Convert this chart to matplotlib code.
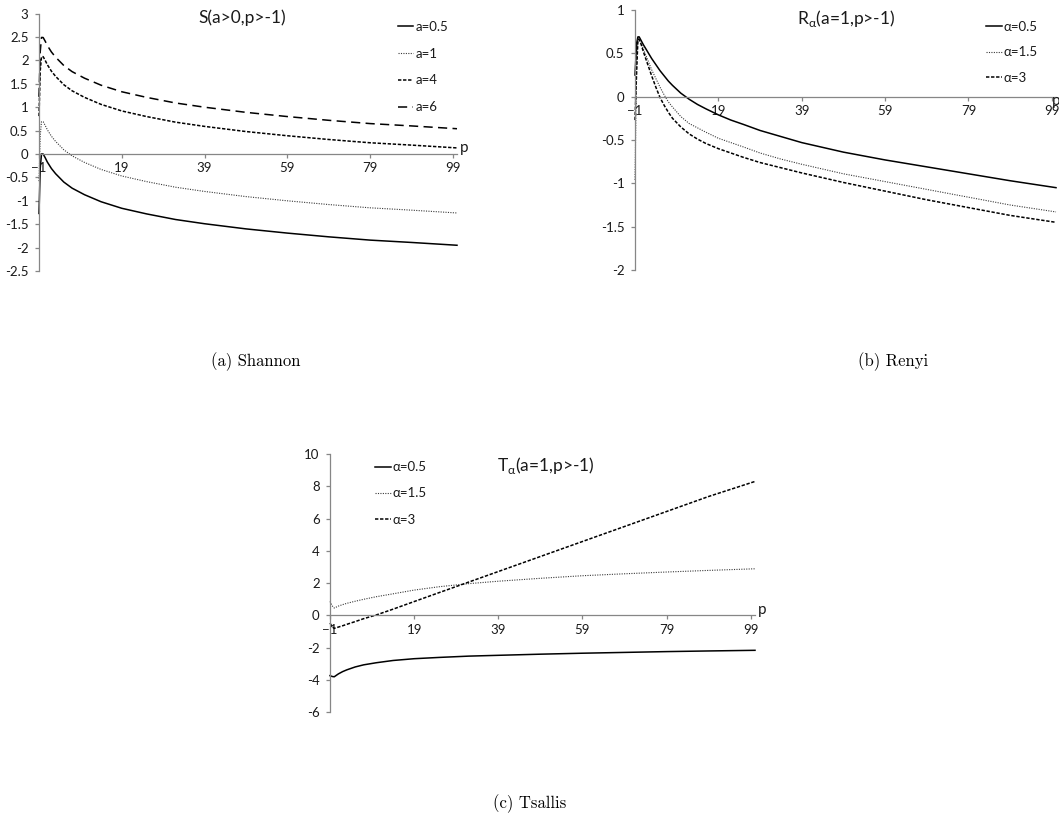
import matplotlib.pyplot as plt
import matplotlib.transforms as mtransforms
from matplotlib.ticker import FuncFormatter

plt.rcParams['font.family'] = ['Lato', 'DejaVu Sans']
plt.rcParams['mathtext.fontset'] = 'dejavusans'

# -------------------------
# (a) Shannon, values
# -------------------------
p_s = [-1, -0.7, -0.4, 0, 0.5, 1, 2, 3, 5, 7, 10, 14, 19, 25, 32, 39, 49, 59, 69, 79, 89, 100]
s_a05 = [-1.27, -0.30, 0.0, 0.0, -0.08, -0.17, -0.31, -0.42, -0.60, -0.73, -0.87, -1.02,
         -1.16, -1.28, -1.40, -1.49, -1.60, -1.69, -1.77, -1.84, -1.89, -1.95]
s_a1 = [-0.58, 0.39, 0.69, 0.69, 0.61, 0.52, 0.38, 0.27, 0.09, -0.04, -0.18, -0.33,
        -0.47, -0.59, -0.71, -0.80, -0.91, -1.00, -1.08, -1.15, -1.20, -1.26]
s_a4 = [0.81, 1.78, 2.08, 2.08, 2.00, 1.91, 1.77, 1.66, 1.48, 1.35, 1.21, 1.06,
        0.92, 0.80, 0.68, 0.59, 0.48, 0.39, 0.31, 0.24, 0.19, 0.13]
s_a6 = [1.22, 2.19, 2.49, 2.49, 2.41, 2.32, 2.18, 2.07, 1.89, 1.76, 1.62, 1.47,
        1.33, 1.21, 1.09, 1.00, 0.89, 0.80, 0.72, 0.65, 0.60, 0.54]
s_labels = ["a=0.5", "a=1", "a=4", "a=6"]

# -------------------------
# (b) Renyi
# -------------------------
p_r = [-1, -0.6, -0.3, 0, 0.5, 1, 1.5, 2, 3, 4, 5, 6, 7, 8, 10, 12, 14, 16, 19, 22,
       25, 29, 34, 39, 49, 59, 69, 79, 89, 100]
r_05 = [0.25, 0.62, 0.69, 0.69, 0.645, 0.60, 0.56, 0.52, 0.44, 0.37, 0.30, 0.24, 0.18,
        0.13, 0.04, -0.03, -0.09, -0.14, -0.21, -0.27, -0.32, -0.39, -0.46, -0.53,
        -0.64, -0.73, -0.81, -0.89, -0.97, -1.05]
r_15 = [-0.96, 0.40, 0.67, 0.67, 0.62, 0.55, 0.49, 0.43, 0.31, 0.21, 0.11, 0.02, -0.06,
        -0.12, -0.23, -0.31, -0.36, -0.41, -0.48, -0.53, -0.58, -0.65, -0.72, -0.78,
        -0.89, -0.98, -1.07, -1.16, -1.25, -1.33]
r_3 = [-0.27, 0.30, 0.66, 0.66, 0.60, 0.52, 0.45, 0.38, 0.24, 0.11, -0.01, -0.10,
       -0.18, -0.25, -0.35, -0.43, -0.49, -0.54, -0.60, -0.65, -0.70, -0.76, -0.82,
       -0.88, -0.99, -1.09, -1.19, -1.28, -1.37, -1.45]
r_labels = ["α=0.5", "α=1.5", "α=3"]

# -------------------------
# (c) Tsallis
# -------------------------
p_t = [-1, -0.5, 0, 1, 2, 3, 5, 7, 10, 14, 19, 25, 32, 39, 49, 59, 69, 79, 89, 100]
t_05 = [-3.73, -3.78, -3.80, -3.62, -3.48, -3.37, -3.19, -3.06, -2.93, -2.79, -2.68,
        -2.60, -2.52, -2.47, -2.40, -2.34, -2.29, -2.24, -2.20, -2.16]
t_15 = [0.87, 0.60, 0.46, 0.58, 0.67, 0.75, 0.88, 1.00, 1.16, 1.34, 1.57, 1.78, 1.97,
        2.12, 2.30, 2.46, 2.58, 2.69, 2.79, 2.89]
t_3 = [-0.47, -0.70, -0.80, -0.72, -0.64, -0.55, -0.38, -0.20, 0.03, 0.39, 0.86, 1.42,
       2.07, 2.72, 3.65, 4.58, 5.51, 6.44, 7.37, 8.30]
t_labels = ["α=0.5", "α=1.5", "α=3"]

x_ticks = [-1, 19, 39, 59, 79, 99]

AXIS_GREY = "#868686"
TEXT = "#1a1a1a"

W, H = 1059, 827
fig = plt.figure(figsize=(W / 100, H / 100), dpi=100)


def px_axes(left, right, top, bottom):
    return fig.add_axes([left / W, 1 - bottom / H, (right - left) / W, (bottom - top) / H])


def style_axes(ax, ylim, yticks):
    ax.set_xlim(-1, 100)
    ax.set_ylim(*ylim)
    for s in ["top", "right"]:
        ax.spines[s].set_visible(False)
    ax.spines["bottom"].set_position(("data", 0))
    for s in ["left", "bottom"]:
        ax.spines[s].set_color(AXIS_GREY)
        ax.spines[s].set_linewidth(0.9)
    ax.set_xticks(x_ticks)
    ax.set_yticks(yticks)
    ax.yaxis.set_major_formatter(FuncFormatter(lambda v, pos: f"{v:g}"))
    ax.tick_params(axis="both", direction="out", length=3, width=0.9,
                   color=AXIS_GREY, labelsize=9.5, labelcolor=TEXT)
    ax.tick_params(axis="x", pad=3)
    ax.tick_params(axis="y", pad=4.5)
    ax.patch.set_visible(False)


def draw(ax, p, series, styles, labels):
    handles = []
    for ys, st, lab in zip(series, styles, labels):
        h, = ax.plot(p, ys, color=st[0], lw=st[1], dashes=st[2], label=lab,
                     solid_joinstyle="round", clip_on=False)
        handles.append(h)
    return handles


SOLID = ("#000000", 1.1, ())
DOT = ("#3a3a3a", 0.8, (1, 1.2))
SHORT = ("#000000", 1.1, (2.2, 1.1))
LONG = ("#000000", 1.1, (6, 3.5))


def add_legend(ax, handles, x, y, spacing):
    ax.legend(handles=handles, loc="upper left", bbox_to_anchor=(x, y),
              frameon=False, fontsize=9.5, handlelength=1.2, handletextpad=0.15,
              labelspacing=spacing, borderpad=0, borderaxespad=0, labelcolor=TEXT)


def p_label(ax, dx, dy):
    tr = mtransforms.blended_transform_factory(ax.transAxes, ax.transData)
    ax.annotate("p", xy=(1.0, 0), xycoords=tr, xytext=(dx, dy),
                textcoords="offset points", fontsize=11, color=TEXT,
                ha="left", va="center", annotation_clip=False)


# (a) Shannon
ax1 = px_axes(39, 39 + 418, 13.6, 271)
style_axes(ax1, (-2.5, 3), [-2.5, -2, -1.5, -1, -0.5, 0, 0.5, 1, 1.5, 2, 2.5, 3])
h1 = draw(ax1, p_s, [s_a05, s_a1, s_a4, s_a6], [SOLID, DOT, SHORT, LONG], s_labels)
add_legend(ax1, h1, 0.858, 0.972, 1.12)
ax1.text(0.486, 0.983, "S(a>0,p>-1)", transform=ax1.transAxes, ha="center",
         va="center", fontsize=12.5, color=TEXT)
p_label(ax1, 2, 4)

# (b) Renyi
ax2 = px_axes(635, 635 + 421, 10, 270)
style_axes(ax2, (-2, 1), [-2, -1.5, -1, -0.5, 0, 0.5, 1])
h2 = draw(ax2, p_r, [r_05, r_15, r_3], [SOLID, DOT, SHORT], r_labels)
add_legend(ax2, h2, 0.834, 0.958, 1.02)
ax2.text(0.501, 0.969, r"R$_{\mathregular{α}}$(a=1,p>-1)", transform=ax2.transAxes,
         ha="center", va="center", fontsize=12.5, color=TEXT)
p_label(ax2, -3, -3)

# (c) Tsallis
ax3 = px_axes(330, 330 + 425, 454, 712.3)
style_axes(ax3, (-6, 10), [-6, -4, -2, 0, 2, 4, 6, 8, 10])
h3 = draw(ax3, p_t, [t_05, t_15, t_3], [SOLID, DOT, SHORT], t_labels)
add_legend(ax3, h3, 0.106, 0.972, 1.08)
ax3.text(0.508, 0.954, r"T$_{\mathregular{α}}$(a=1,p>-1)", transform=ax3.transAxes,
         ha="center", va="center", fontsize=12.5, color=TEXT)
p_label(ax3, 2, 4)

# captions
for x, y, s in [(256, 362, "(a) Shannon"), (893, 362, "(b) Renyi"), (529.5, 804, "(c) Tsallis")]:
    fig.text(x / W, 1 - y / H, s, ha="center", va="center", fontsize=12,
             family="cmr10", color="#000000")

fig.savefig("out.png", dpi=100)
